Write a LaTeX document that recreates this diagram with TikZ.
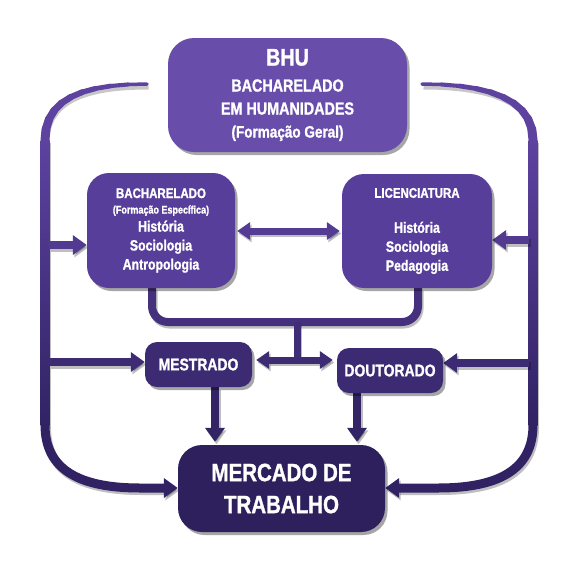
\documentclass[tikz,border=0pt]{standalone}
\usepackage{fontspec}
\setmainfont{Liberation Sans}[FakeStretch=0.82, BoldFeatures={FakeBold=1.2}]
\usetikzlibrary{arrows.meta,shadows}
\definecolor{cBHU}{HTML}{684DAA}
\definecolor{cMid}{HTML}{583E9B}
\definecolor{cLow}{HTML}{3C2B73}
\definecolor{cBot}{HTML}{2D205C}
\definecolor{lineTop}{HTML}{5D42A0}
\definecolor{lineBot}{HTML}{2E2160}
\pgfdeclarelayer{bg}
\pgfsetlayers{bg,main}
\newcommand\ycol[2]{\pgfmathtruncatemacro\mypct{max(0,min(100,(#2-180)/2.6))}\colorlet{#1}{lineBot!\mypct!lineTop}}
\newcommand\wire[2]{\draw[#1,draw=black,opacity=0.25,transform canvas={shift={(1.5pt,-2.5pt)}}] #2;\draw[#1] #2;}
\begin{document}
\begin{tikzpicture}[x=1pt,y=-1pt,
  box/.style={rounded corners=22pt, text=white, align=center, inner sep=0pt,
    drop shadow={shadow xshift=2.5pt, shadow yshift=-3pt, opacity=0.35, fill=black}},
  wirew/.style={line width=8pt},
  tipf/.style={-{Triangle[width=19pt,length=14pt]}},
  tipb/.style={{Triangle[width=17pt,length=13pt]}-{Triangle[width=17pt,length=13pt]}}]

% boxes
\node[box, fill=cBHU, minimum width=239pt, minimum height=114pt, rounded corners=26pt,
      font=\bfseries\fontsize{17.5}{23}\selectfont] (bhu) at (287.5,95)
  {{\fontsize{24}{24}\selectfont BHU}\\[3pt]BACHARELADO\\EM HUMANIDADES\\{\fontsize{16.5}{23}\selectfont (Formação Geral)}};
\node[box, fill=cMid, minimum width=148pt, minimum height=115pt,
      font=\bfseries\fontsize{15}{19}\selectfont] (bach) at (161,230.5)
  {{\fontsize{14}{14}\selectfont BACHARELADO}\\[-3.5pt]{\fontsize{11}{11}\selectfont (Formação Específica)}\\[-1pt]História\\Sociologia\\Antropologia};
\node[box, fill=cMid, minimum width=150pt, minimum height=114pt,
      font=\bfseries\fontsize{15}{19}\selectfont] (lic) at (417,231)
  {{\fontsize{14}{14}\selectfont LICENCIATURA}\\[16pt]História\\Sociologia\\Pedagogia};
\node[box, fill=cLow, minimum width=107pt, minimum height=45pt, rounded corners=12pt,
      font=\bfseries\fontsize{17}{17}\selectfont] (mest) at (198.5,364.5) {MESTRADO};
\node[box, fill=cLow, minimum width=106pt, minimum height=45pt, rounded corners=12pt,
      font=\bfseries\fontsize{17}{17}\selectfont] (dout) at (390,370.5) {DOUTORADO};
\node[box, fill=cBot, minimum width=207pt, minimum height=87pt, rounded corners=24pt,
      font=\bfseries\fontsize{25}{32}\selectfont] (merc) at (281.5,488.5) {MERCADO DE\\TRABALHO};

% coordinates
\coordinate (tl0) at (147,84);  \coordinate (lb1) at (45,140);  \coordinate (lb2) at (45,425);  \coordinate (lb3) at (140,488);
\coordinate (tr0) at (422,84);  \coordinate (rb1) at (533,140); \coordinate (rb2) at (533,425); \coordinate (rb3) at (438,488);
\coordinate (jl1) at (45,245);  \coordinate (jl2) at (45,362);  \coordinate (jr1) at (533,240); \coordinate (jr2) at (533,363);
\coordinate (hba) at (0,231);
\coordinate (bk1) at (152,322); \coordinate (bk2) at (418,322); \coordinate (bkm) at (297,322);
\coordinate (dm) at (297,360);
\coordinate (dx1) at (215,0);   \coordinate (dx2) at (357,0);

\begin{pgfonlayer}{bg}
\fill[white] (0,0) rectangle (575,573);
\useasboundingbox (0,0) rectangle (575,573);

% tapered top curves
\path (tl0) .. controls (80,84) and (45,100) .. (lb1)
  coordinate[pos=0] (ta0) coordinate[pos=.1] (ta1) coordinate[pos=.2] (ta2) coordinate[pos=.3] (ta3)
  coordinate[pos=.4] (ta4) coordinate[pos=.5] (ta5) coordinate[pos=.6] (ta6) coordinate[pos=.7] (ta7)
  coordinate[pos=.8] (ta8) coordinate[pos=.9] (ta9) coordinate[pos=1] (ta10);
\path (tr0) .. controls (490,84) and (533,100) .. (rb1)
  coordinate[pos=0] (tb0) coordinate[pos=.1] (tb1) coordinate[pos=.2] (tb2) coordinate[pos=.3] (tb3)
  coordinate[pos=.4] (tb4) coordinate[pos=.5] (tb5) coordinate[pos=.6] (tb6) coordinate[pos=.7] (tb7)
  coordinate[pos=.8] (tb8) coordinate[pos=.9] (tb9) coordinate[pos=1] (tb10);
\draw[black,opacity=.22,line width=6pt,transform canvas={shift={(1.5pt,-2.5pt)}}] (tl0) .. controls (80,84) and (45,100) .. (lb1);
\draw[black,opacity=.22,line width=6pt,transform canvas={shift={(1.5pt,-2.5pt)}}] (tr0) .. controls (490,84) and (533,100) .. (rb1);
\foreach \i in {0,...,9} {
  \pgfmathtruncatemacro\j{\i+1}\pgfmathsetmacro\w{3.5+0.6*\i}
  \draw[line width=\w pt, line cap=round, lineTop] (ta\i) -- (ta\j);
  \draw[line width=\w pt, line cap=round, lineTop] (tb\i) -- (tb\j);
}

% side bars with gradient
\fill[black,opacity=.25,transform canvas={shift={(1.5pt,-2.5pt)}}] (lb1) ++(-4.5,0) rectangle ++(9,285);
\fill[black,opacity=.25,transform canvas={shift={(1.5pt,-2.5pt)}}] (rb1) ++(-4.5,0) rectangle ++(9,285);
\shade[top color=lineTop, bottom color=lineBot!94!lineTop] (lb1) ++(-4.5,0) rectangle ++(9,285.5);
\shade[top color=lineTop, bottom color=lineBot!94!lineTop] (rb1) ++(-4.5,0) rectangle ++(9,285.5);

% bottom curves into market
\colorlet{cc}{lineBot!96!lineTop}
\wire{line width=9pt, cc, tipf}{(lb2) .. controls (45,470) and (80,488) .. (lb3) -- (merc.west |- lb3)}
\wire{line width=9pt, cc, tipf}{(rb2) .. controls (533,470) and (498,488) .. (rb3) -- (merc.east |- rb3)}

% branches from the bars
\ycol{cc}{245}\wire{wirew, cc, tipf, shorten <=4pt}{(jl1) -- (jl1 -| bach.west)}
\ycol{cc}{240}\wire{wirew, cc, tipf, shorten <=4pt}{(jr1) -- (jr1 -| lic.east)}
\ycol{cc}{362}\wire{wirew, cc, tipf, shorten <=4pt}{(jl2) -- (jl2 -| mest.west)}
\ycol{cc}{363}\wire{wirew, cc, tipf, shorten <=4pt}{(jr2) -- (jr2 -| dout.east)}

% bacharelado <-> licenciatura
\ycol{cc}{231}\wire{line width=7pt, cc, tipb, shorten <=2pt, shorten >=2pt}{(bach.east |- hba) -- (lic.west |- hba)}

% bracket and stub
\ycol{cc}{322}\wire{wirew, cc, rounded corners=16pt}{(bach.south -| bk1) -- (bk1) -- (bk2) -- (lic.south -| bk2)}
\ycol{cc}{345}\wire{line width=7pt, cc}{(bkm) -- (dm)}
\ycol{cc}{360}\wire{line width=7pt, cc, tipb, shorten <=4pt, shorten >=4pt}{(mest.east |- dm) -- (dout.west |- dm)}

% down arrows
\ycol{cc}{420}\wire{wirew, cc, tipf, shorten >=3pt}{(mest.south -| dx1) -- (merc.north -| dx1)}
\wire{wirew, cc, tipf, shorten >=3pt}{(dout.south -| dx2) -- (merc.north -| dx2)}
\end{pgfonlayer}
\end{tikzpicture}
\end{document}
